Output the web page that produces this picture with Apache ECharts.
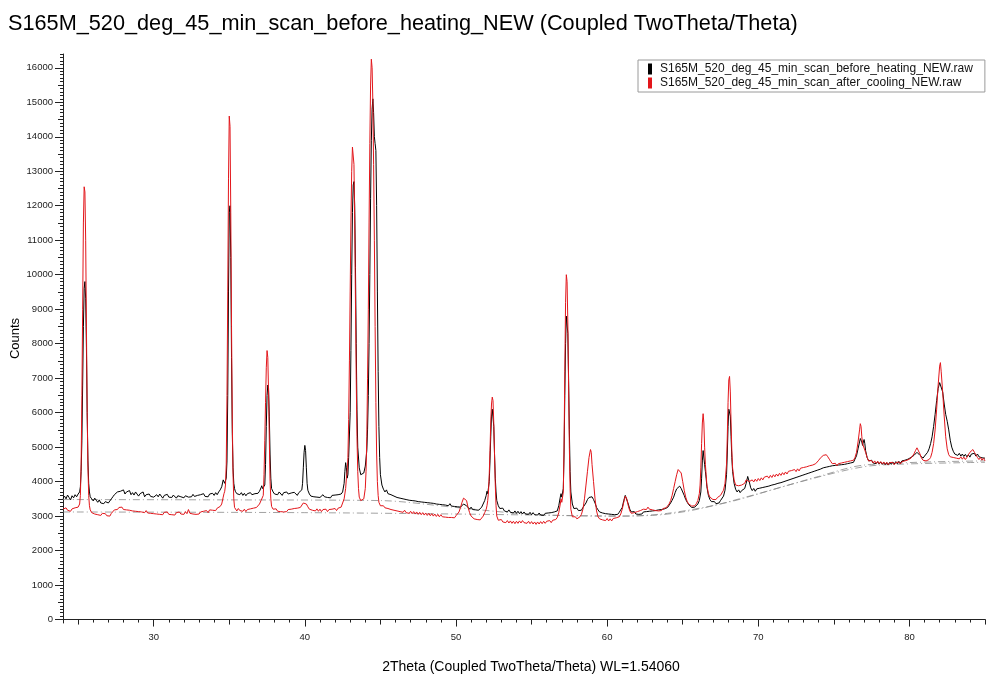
<!DOCTYPE html>
<html>
<head>
<meta charset="utf-8">
<title>XRD scan</title>
<script src="https://cdn.jsdelivr.net/npm/echarts@6/dist/echarts.min.js"></script>
<style>
  html, body { margin: 0; padding: 0; background: #fff; }
  #chart { width: 988px; height: 677px; }
</style>
</head>
<body>
<div id="chart"></div>
<script>
const titleText = 'S165M_520_deg_45_min_scan_before_heating_NEW (Coupled TwoTheta/Theta)';
const seriesNames = ['S165M_520_deg_45_min_scan_before_heating_NEW.raw', 'S165M_520_deg_45_min_scan_after_cooling_NEW.raw'];
const xLabelTicks = [30, 40, 50, 60, 70, 80];
const xMidTicks = [25, 35, 45, 55, 65, 75, 85];
const yLabelTicks = [0, 1000, 2000, 3000, 4000, 5000, 6000, 7000, 8000, 9000, 10000, 11000, 12000, 13000, 14000, 15000, 16000];

// black scan (before heating): [2theta, counts]
const beforeHeating = [
[24.0,3520],[24.1,3580],[24.2,3500],[24.3,3610],[24.4,3540],[24.5,3470],[24.6,3590],[24.7,3530],[24.8,3620],[24.9,3560],
[25.0,3640],[25.1,3700],[25.15,3850],[25.2,4300],[25.25,5200],[25.3,6800],[25.35,8500],[25.4,9600],[25.45,9800],[25.5,9300],
[25.55,7900],[25.6,6000],[25.65,4600],[25.7,3950],[25.75,3700],[25.8,3560],[25.9,3500],[26.0,3440],[26.1,3520],[26.2,3460],
[26.3,3400],[26.4,3470],[26.5,3380],[26.6,3430],[26.7,3360],[26.8,3420],[26.9,3450],[27.0,3380],[27.1,3420],[27.2,3500],
[27.3,3560],[27.4,3620],[27.5,3590],[27.6,3700],[27.7,3650],[27.8,3720],[27.9,3680],[28.0,3760],[28.1,3640],[28.2,3700],
[28.3,3660],[28.4,3740],[28.5,3620],[28.6,3680],[28.7,3610],[28.8,3700],[28.9,3640],[29.0,3580],[29.1,3650],[29.2,3600],
[29.3,3700],[29.4,3560],[29.5,3620],[29.6,3580],[29.7,3640],[29.8,3570],[29.9,3610],[30.0,3550],[30.1,3590],[30.2,3620],
[30.3,3560],[30.4,3640],[30.5,3580],[30.6,3520],[30.7,3600],[30.8,3570],[30.9,3630],[31.0,3550],[31.1,3600],[31.2,3540],
[31.3,3610],[31.4,3570],[31.5,3520],[31.6,3590],[31.7,3640],[31.8,3560],[31.9,3600],[32.0,3530],[32.1,3590],[32.2,3620],
[32.3,3550],[32.4,3600],[32.5,3560],[32.6,3630],[32.7,3570],[32.8,3520],[32.9,3600],[33.0,3560],[33.1,3620],[33.2,3580],
[33.3,3650],[33.4,3570],[33.5,3610],[33.6,3560],[33.7,3640],[33.8,3590],[33.9,3660],[34.0,3600],[34.1,3680],[34.2,3620],
[34.3,3700],[34.4,3760],[34.5,3850],[34.6,4050],[34.65,4100],[34.7,3950],[34.75,3900],[34.8,4100],[34.85,4600],[34.9,6500],
[34.95,9500],[35.0,11800],[35.05,12000],[35.1,10500],[35.15,7600],[35.2,5400],[35.25,4400],[35.3,3950],[35.35,3800],[35.4,3720],
[35.5,3650],[35.6,3700],[35.7,3620],[35.8,3680],[35.9,3600],[36.0,3660],[36.1,3590],[36.2,3650],[36.3,3600],[36.4,3680],
[36.5,3620],[36.6,3580],[36.7,3650],[36.8,3600],[36.9,3660],[37.0,3720],[37.1,3820],[37.15,3880],[37.2,3800],[37.3,3750],
[37.35,3900],[37.4,4500],[37.45,5600],[37.5,6500],[37.55,6800],[37.6,6700],[37.65,5900],[37.7,4800],[37.75,4100],[37.8,3800],
[37.9,3700],[38.0,3640],[38.1,3690],[38.2,3620],[38.3,3700],[38.4,3650],[38.5,3600],[38.6,3680],[38.7,3630],[38.8,3700],
[38.9,3640],[39.0,3600],[39.1,3670],[39.2,3620],[39.3,3690],[39.4,3640],[39.5,3600],[39.6,3680],[39.7,3650],[39.8,3760],
[39.85,3950],[39.9,4400],[39.95,4850],[40.0,5050],[40.05,4900],[40.1,4400],[40.15,3950],[40.2,3750],[40.3,3640],[40.4,3580],
[40.5,3620],[40.6,3560],[40.7,3610],[40.8,3550],[40.9,3600],[41.0,3540],[41.1,3590],[41.2,3620],[41.3,3560],[41.4,3600],
[41.5,3540],[41.6,3590],[41.7,3530],[41.8,3600],[41.9,3550],[42.0,3610],[42.1,3560],[42.2,3620],[42.3,3580],[42.4,3640],
[42.5,3700],[42.6,3950],[42.65,4300],[42.7,4550],[42.75,4400],[42.8,4100],[42.85,4200],[42.9,4700],[43.0,6000],[43.05,7800],
[43.1,10000],[43.15,11800],[43.2,12600],[43.25,12700],[43.3,12000],[43.35,10200],[43.4,8000],[43.45,6100],[43.5,5000],[43.6,4400],
[43.7,4200],[43.8,4150],[43.9,4250],[44.0,4450],[44.1,4900],[44.15,5500],[44.2,6500],[44.25,8000],[44.3,10000],[44.35,12200],
[44.4,13900],[44.45,14800],[44.5,15100],[44.55,14700],[44.6,14000],[44.65,13800],[44.7,13600],[44.75,12000],[44.8,9500],[44.85,7200],
[44.9,5600],[44.95,4700],[45.0,4200],[45.1,3900],[45.2,3780],[45.3,3700],[45.4,3760],[45.5,3650],[45.6,3700],[45.7,3620],
[45.8,3660],[45.9,3580],[46.0,3620],[46.1,3540],[46.2,3590],[46.3,3520],[46.4,3560],[46.5,3500],[46.6,3550],[46.7,3480],
[46.8,3530],[46.9,3460],[47.0,3510],[47.1,3450],[47.2,3500],[47.3,3440],[47.4,3490],[47.5,3420],[47.6,3470],[47.7,3410],
[47.8,3460],[47.9,3400],[48.0,3450],[48.1,3390],[48.2,3440],[48.3,3380],[48.4,3430],[48.5,3370],[48.6,3410],[48.7,3350],
[48.8,3400],[48.9,3340],[49.0,3390],[49.1,3330],[49.2,3380],[49.3,3320],[49.4,3370],[49.5,3300],[49.6,3360],[49.7,3290],
[49.8,3340],[49.9,3280],[50.0,3330],[50.1,3270],[50.2,3320],[50.3,3260],[50.4,3310],[50.5,3350],[50.6,3380],[50.7,3300],
[50.8,3250],[50.9,3200],[51.0,3260],[51.1,3190],[51.2,3240],[51.3,3180],[51.4,3230],[51.5,3170],[51.6,3220],[51.7,3260],
[51.8,3300],[51.9,3450],[52.0,3600],[52.05,3720],[52.1,3650],[52.15,3700],[52.2,4000],[52.25,4600],[52.3,5300],[52.35,5900],
[52.4,6100],[52.45,6050],[52.5,5600],[52.55,4800],[52.6,4100],[52.65,3700],[52.7,3450],[52.8,3300],[52.9,3220],[53.0,3180],
[53.1,3230],[53.2,3150],[53.3,3200],[53.4,3120],[53.5,3180],[53.6,3110],[53.7,3160],[53.8,3090],[53.9,3150],[54.0,3080],
[54.1,3140],[54.2,3070],[54.3,3130],[54.4,3060],[54.5,3120],[54.6,3060],[54.7,3110],[54.8,3050],[54.9,3110],[55.0,3040],
[55.1,3100],[55.2,3040],[55.3,3090],[55.4,3030],[55.5,3090],[55.6,3030],[55.7,3080],[55.8,3020],[55.9,3080],[56.0,3030],
[56.1,3090],[56.2,3040],[56.3,3100],[56.4,3060],[56.5,3120],[56.6,3080],[56.7,3150],[56.8,3300],[56.9,3550],[56.95,3650],
[57.0,3550],[57.05,3500],[57.1,3800],[57.15,4800],[57.2,6500],[57.25,8000],[57.3,8800],[57.35,8850],[57.4,8300],[57.45,7000],
[57.5,5500],[57.55,4300],[57.6,3700],[57.7,3350],[57.8,3220],[57.9,3180],[58.0,3230],[58.1,3160],[58.2,3210],[58.3,3170],
[58.4,3250],[58.5,3300],[58.6,3380],[58.7,3480],[58.8,3540],[58.9,3500],[59.0,3560],[59.1,3480],[59.2,3380],[59.3,3250],
[59.4,3180],[59.5,3120],[59.6,3160],[59.7,3090],[59.8,3140],[59.9,3070],[60.0,3120],[60.1,3060],[60.2,3110],[60.3,3050],
[60.4,3100],[60.5,3040],[60.6,3090],[60.7,3050],[60.8,3110],[60.9,3150],[61.0,3250],[61.1,3450],[61.2,3600],[61.25,3620],
[61.3,3550],[61.4,3350],[61.5,3200],[61.6,3120],[61.7,3080],[61.8,3130],[61.9,3060],[62.0,3110],[62.1,3050],[62.2,3100],
[62.3,3060],[62.4,3120],[62.5,3070],[62.6,3130],[62.7,3080],[62.8,3140],[62.9,3090],[63.0,3150],[63.1,3100],[63.2,3160],
[63.3,3120],[63.4,3180],[63.5,3130],[63.6,3190],[63.7,3150],[63.8,3210],[63.9,3180],[64.0,3250],[64.1,3300],[64.2,3380],
[64.3,3460],[64.4,3550],[64.5,3680],[64.6,3790],[64.7,3840],[64.8,3870],[64.9,3800],[65.0,3700],[65.1,3600],[65.2,3480],
[65.3,3400],[65.4,3330],[65.5,3290],[65.6,3250],[65.7,3300],[65.8,3260],[65.9,3310],[66.0,3350],[66.1,3450],[66.2,3700],
[66.25,4100],[66.3,4600],[66.35,4900],[66.4,4850],[66.45,4500],[66.5,4300],[66.55,4100],[66.6,3850],[66.7,3600],[66.8,3480],
[66.9,3420],[67.0,3380],[67.1,3420],[67.2,3360],[67.3,3410],[67.4,3380],[67.5,3450],[67.6,3500],[67.7,3580],[67.8,3750],
[67.9,4200],[67.95,4800],[68.0,5600],[68.05,6100],[68.1,6150],[68.15,5900],[68.2,5300],[68.25,4700],[68.3,4300],[68.4,3950],
[68.5,3780],[68.6,3700],[68.7,3760],[68.8,3680],[68.9,3740],[69.0,3700],[69.1,3800],[69.2,3950],[69.3,4150],[69.35,4200],
[69.4,4000],[69.5,3820],[69.6,3740],[69.7,3800],[69.8,3720],[69.9,3790],[70.0,3740],[70.1,3810],[70.2,3760],[70.3,3830],
[70.4,3780],[70.5,3850],[70.6,3800],[70.7,3870],[70.8,3820],[70.9,3900],[71.0,3850],[71.1,3920],[71.2,3870],[71.3,3950],
[71.4,3900],[71.5,3970],[71.6,3920],[71.7,4000],[71.8,3950],[71.9,4030],[72.0,3980],[72.1,4060],[72.2,4010],[72.3,4090],
[72.4,4040],[72.5,4120],[72.6,4070],[72.7,4150],[72.8,4100],[72.9,4180],[73.0,4130],[73.1,4210],[73.2,4160],[73.3,4240],
[73.4,4190],[73.5,4270],[73.6,4220],[73.7,4300],[73.8,4250],[73.9,4330],[74.0,4290],[74.1,4360],[74.2,4320],[74.3,4400],
[74.4,4350],[74.5,4420],[74.6,4380],[74.7,4440],[74.8,4400],[74.9,4460],[75.0,4410],[75.1,4470],[75.2,4420],[75.3,4480],
[75.4,4430],[75.5,4490],[75.6,4440],[75.7,4500],[75.8,4460],[75.9,4520],[76.0,4480],[76.1,4540],[76.2,4500],[76.3,4560],
[76.4,4600],[76.5,4750],[76.6,4950],[76.7,5150],[76.75,5250],[76.8,5280],[76.85,5150],[76.9,5050],[76.95,5150],[77.0,5220],
[77.05,5100],[77.1,4900],[77.2,4700],[77.3,4600],[77.4,4560],[77.5,4620],[77.6,4540],[77.7,4590],[77.8,4520],[77.9,4580],
[78.0,4510],[78.1,4570],[78.2,4500],[78.3,4560],[78.4,4490],[78.5,4550],[78.6,4480],[78.7,4560],[78.8,4500],[78.9,4570],
[79.0,4510],[79.1,4580],[79.2,4520],[79.3,4590],[79.4,4530],[79.5,4600],[79.6,4550],[79.7,4620],[79.8,4580],[79.9,4650],
[80.0,4620],[80.1,4700],[80.2,4680],[80.3,4760],[80.4,4800],[80.5,4850],[80.6,4820],[80.7,4760],[80.8,4720],[80.9,4680],
[81.0,4740],[81.1,4780],[81.2,4850],[81.3,4950],[81.4,5100],[81.5,5300],[81.6,5600],[81.7,5950],[81.8,6350],[81.9,6700],
[82.0,6870],[82.1,6820],[82.2,6600],[82.3,6250],[82.4,5950],[82.5,5750],[82.6,5500],[82.7,5200],[82.8,5000],[82.9,4880],
[83.0,4800],[83.1,4850],[83.2,4760],[83.3,4820],[83.4,4740],[83.5,4800],[83.6,4730],[83.7,4790],[83.8,4720],[83.9,4780],
[84.0,4710],[84.1,4800],[84.2,4760],[84.3,4820],[84.4,4740],[84.5,4800],[84.6,4720],[84.7,4770],[84.8,4690],[84.9,4740],
[85.0,4680]
];

// red scan (after cooling): [2theta, counts]
const afterCooling = [
[24.0,3200],[24.1,3150],[24.2,3240],[24.3,3170],[24.4,3220],[24.5,3140],[24.6,3210],[24.7,3160],[24.8,3240],[24.9,3190],
[25.0,3260],[25.1,3350],[25.15,3600],[25.2,4500],[25.25,6500],[25.3,9000],[25.35,11500],[25.4,12550],[25.45,12400],[25.5,11000],
[25.55,8500],[25.6,6000],[25.65,4400],[25.7,3600],[25.75,3300],[25.8,3180],[25.9,3100],[26.0,3140],[26.1,3060],[26.2,3110],
[26.3,3040],[26.4,3090],[26.5,3020],[26.6,3080],[26.7,3030],[26.8,3070],[26.9,3010],[27.0,3060],[27.1,3000],[27.2,3080],
[27.3,3120],[27.4,3180],[27.5,3220],[27.6,3190],[27.7,3250],[27.8,3200],[27.9,3260],[28.0,3190],[28.1,3240],[28.2,3180],
[28.3,3230],[28.4,3170],[28.5,3210],[28.6,3150],[28.7,3200],[28.8,3140],[28.9,3190],[29.0,3130],[29.1,3180],[29.2,3120],
[29.3,3170],[29.4,3100],[29.5,3160],[29.6,3090],[29.7,3140],[29.8,3080],[29.9,3130],[30.0,3070],[30.1,3120],[30.2,3060],
[30.3,3110],[30.4,3050],[30.5,3100],[30.6,3040],[30.7,3110],[30.8,3060],[30.9,3120],[31.0,3050],[31.1,3100],[31.2,3040],
[31.3,3090],[31.4,3030],[31.5,3100],[31.6,3050],[31.7,3120],[31.8,3060],[31.9,3110],[32.0,3050],[32.1,3130],[32.2,3070],
[32.3,3190],[32.4,3080],[32.5,3120],[32.6,3060],[32.7,3110],[32.8,3050],[32.9,3100],[33.0,3060],[33.1,3120],[33.2,3070],
[33.3,3140],[33.4,3090],[33.5,3160],[33.6,3100],[33.7,3180],[33.8,3230],[33.9,3170],[34.0,3220],[34.1,3160],[34.2,3230],
[34.3,3200],[34.4,3280],[34.5,3350],[34.6,3550],[34.65,3650],[34.7,3720],[34.75,3900],[34.8,4500],[34.85,6500],[34.9,9500],
[34.95,12800],[35.0,14600],[35.05,14300],[35.1,11800],[35.15,8500],[35.2,5800],[35.25,4200],[35.3,3500],[35.35,3250],[35.4,3200],
[35.5,3150],[35.6,3220],[35.7,3160],[35.8,3210],[35.9,3140],[36.0,3200],[36.1,3130],[36.2,3190],[36.3,3150],[36.4,3210],
[36.5,3160],[36.6,3230],[36.7,3180],[36.8,3250],[36.9,3300],[37.0,3350],[37.1,3450],[37.15,3480],[37.2,3400],[37.25,3600],
[37.3,4200],[37.35,5200],[37.4,6300],[37.45,7300],[37.5,7800],[37.55,7600],[37.6,6600],[37.65,5200],[37.7,4000],[37.75,3500],
[37.8,3280],[37.9,3200],[38.0,3150],[38.1,3210],[38.2,3140],[38.3,3190],[38.4,3130],[38.5,3180],[38.6,3120],[38.7,3170],
[38.8,3130],[38.9,3190],[39.0,3140],[39.1,3200],[39.2,3150],[39.3,3220],[39.4,3170],[39.5,3230],[39.6,3180],[39.7,3250],
[39.8,3300],[39.9,3380],[40.0,3430],[40.1,3350],[40.2,3270],[40.3,3200],[40.4,3240],[40.5,3170],[40.6,3220],[40.7,3150],
[40.8,3210],[40.9,3140],[41.0,3200],[41.1,3130],[41.2,3190],[41.3,3140],[41.4,3200],[41.5,3130],[41.6,3190],[41.7,3140],
[41.8,3200],[41.9,3150],[42.0,3220],[42.1,3160],[42.2,3230],[42.3,3200],[42.4,3260],[42.5,3300],[42.6,3500],[42.7,3800],
[42.75,4100],[42.8,4300],[42.85,4700],[42.9,5800],[42.95,7500],[43.0,9500],[43.05,11500],[43.1,13000],[43.15,13700],[43.2,13750],
[43.25,13200],[43.3,11500],[43.35,9200],[43.4,7000],[43.45,5300],[43.5,4300],[43.55,3800],[43.6,3550],[43.7,3450],[43.8,3420],
[43.9,3500],[44.0,3800],[44.05,4300],[44.1,5300],[44.15,7000],[44.2,9000],[44.25,11500],[44.3,13800],[44.35,15500],[44.4,16250],
[44.45,16000],[44.5,15000],[44.55,13200],[44.6,11000],[44.65,8500],[44.7,6300],[44.75,4800],[44.8,4000],[44.85,3600],[44.9,3400],
[45.0,3300],[45.1,3260],[45.2,3300],[45.3,3240],[45.4,3280],[45.5,3220],[45.6,3260],[45.7,3190],[45.8,3240],[45.9,3170],
[46.0,3220],[46.1,3150],[46.2,3200],[46.3,3130],[46.4,3180],[46.5,3110],[46.6,3170],[46.7,3100],[46.8,3150],[46.9,3080],
[47.0,3140],[47.1,3070],[47.2,3130],[47.3,3060],[47.4,3120],[47.5,3050],[47.6,3110],[47.7,3040],[47.8,3100],[47.9,3030],
[48.0,3090],[48.1,3020],[48.2,3080],[48.3,3010],[48.4,3070],[48.5,3000],[48.6,3060],[48.7,2990],[48.8,3050],[48.9,2980],
[49.0,3040],[49.1,2980],[49.2,3030],[49.3,2970],[49.4,3020],[49.5,2960],[49.6,3010],[49.7,2960],[49.8,3000],[49.9,2950],
[50.0,3010],[50.1,3050],[50.2,3120],[50.3,3250],[50.4,3400],[50.5,3520],[50.6,3560],[50.7,3450],[50.8,3250],[50.9,3100],
[51.0,3000],[51.1,2960],[51.2,2920],[51.3,2960],[51.4,2900],[51.5,2940],[51.6,2890],[51.7,2940],[51.8,3000],[51.9,3100],
[52.0,3200],[52.05,3300],[52.1,3450],[52.15,3700],[52.2,4200],[52.25,4900],[52.3,5700],[52.35,6250],[52.4,6450],[52.45,6350],
[52.5,5700],[52.55,4800],[52.6,3900],[52.65,3300],[52.7,3000],[52.8,2880],[52.9,2840],[53.0,2900],[53.1,2830],[53.2,2880],
[53.3,2810],[53.4,2870],[53.5,2800],[53.6,2860],[53.7,2790],[53.8,2850],[53.9,2780],[54.0,2850],[54.1,2790],[54.2,2860],
[54.3,2800],[54.4,2870],[54.5,2810],[54.6,2860],[54.7,2790],[54.8,2850],[54.9,2780],[55.0,2840],[55.1,2770],[55.2,2830],
[55.3,2760],[55.4,2830],[55.5,2770],[55.6,2840],[55.7,2780],[55.8,2850],[55.9,2790],[56.0,2850],[56.1,2800],[56.2,2870],
[56.3,2810],[56.4,2880],[56.5,2830],[56.6,2900],[56.7,2960],[56.8,3100],[56.9,3350],[56.95,3500],[57.0,3400],[57.05,3350],
[57.1,3700],[57.15,5000],[57.2,7200],[57.25,9200],[57.3,10000],[57.35,9800],[57.4,8600],[57.45,6800],[57.5,5000],[57.55,3800],
[57.6,3200],[57.7,2980],[57.8,2940],[57.9,2980],[58.0,2920],[58.1,2960],[58.2,2980],[58.3,3050],[58.4,3200],[58.5,3500],
[58.6,3900],[58.7,4300],[58.8,4700],[58.9,4930],[58.95,4850],[59.0,4500],[59.1,4000],[59.2,3500],[59.3,3150],[59.4,2980],
[59.5,2920],[59.6,2960],[59.7,2890],[59.8,2940],[59.9,2870],[60.0,2930],[60.1,2860],[60.2,2920],[60.3,2860],[60.4,2930],
[60.5,2880],[60.6,2950],[60.7,2900],[60.8,2980],[60.9,3060],[61.0,3200],[61.1,3400],[61.2,3580],[61.25,3600],[61.3,3500],
[61.4,3300],[61.5,3150],[61.6,3080],[61.7,3040],[61.8,3100],[61.9,3060],[62.0,3130],[62.1,3090],[62.2,3160],[62.3,3110],
[62.4,3200],[62.5,3250],[62.6,3190],[62.7,3260],[62.8,3200],[62.9,3250],[63.0,3180],[63.1,3230],[63.2,3160],[63.3,3210],
[63.4,3150],[63.5,3200],[63.6,3160],[63.7,3220],[63.8,3180],[63.9,3240],[64.0,3290],[64.1,3350],[64.2,3450],[64.3,3600],
[64.4,3800],[64.5,4000],[64.6,4200],[64.7,4350],[64.8,4400],[64.9,4250],[65.0,4000],[65.1,3750],[65.2,3550],[65.3,3420],
[65.4,3350],[65.5,3320],[65.6,3290],[65.7,3330],[65.8,3300],[65.9,3360],[66.0,3450],[66.1,3650],[66.15,3900],[66.2,4400],
[66.25,5100],[66.3,5700],[66.35,5970],[66.4,5700],[66.45,5000],[66.5,4500],[66.55,4200],[66.6,3900],[66.7,3650],[66.8,3550],
[66.9,3500],[67.0,3480],[67.1,3520],[67.2,3480],[67.3,3540],[67.4,3520],[67.5,3600],[67.6,3650],[67.7,3750],[67.8,3950],
[67.9,4500],[67.95,5300],[68.0,6300],[68.05,6950],[68.1,7050],[68.15,6600],[68.2,5700],[68.25,4900],[68.3,4400],[68.4,4050],
[68.5,3900],[68.6,3850],[68.7,3880],[68.8,3830],[68.9,3900],[69.0,3870],[69.1,3950],[69.2,4050],[69.3,4080],[69.4,4000],
[69.5,3980],[69.6,4050],[69.7,3990],[69.8,4070],[69.9,4010],[70.0,4090],[70.1,4030],[70.2,4110],[70.3,4050],[70.4,4130],
[70.5,4080],[70.6,4160],[70.7,4100],[70.8,4180],[70.9,4120],[71.0,4200],[71.1,4140],[71.2,4220],[71.3,4160],[71.4,4240],
[71.5,4180],[71.6,4260],[71.7,4200],[71.8,4280],[71.9,4220],[72.0,4300],[72.1,4250],[72.2,4320],[72.3,4270],[72.4,4350],
[72.5,4290],[72.6,4370],[72.7,4310],[72.8,4390],[72.9,4340],[73.0,4410],[73.1,4360],[73.2,4430],[73.3,4380],[73.4,4460],
[73.5,4410],[73.6,4480],[73.7,4440],[73.8,4520],[73.9,4560],[74.0,4620],[74.1,4680],[74.2,4720],[74.3,4760],[74.4,4800],
[74.5,4780],[74.6,4720],[74.7,4650],[74.8,4580],[74.9,4520],[75.0,4480],[75.1,4530],[75.2,4460],[75.3,4520],[75.4,4470],
[75.5,4540],[75.6,4490],[75.7,4560],[75.8,4510],[75.9,4580],[76.0,4530],[76.1,4600],[76.2,4560],[76.3,4620],[76.4,4700],
[76.5,4850],[76.6,5150],[76.7,5500],[76.75,5680],[76.8,5600],[76.85,5300],[76.9,5100],[76.95,5150],[77.0,5050],[77.1,4850],
[77.2,4700],[77.3,4600],[77.4,4560],[77.5,4610],[77.6,4540],[77.7,4600],[77.8,4530],[77.9,4590],[78.0,4520],[78.1,4580],
[78.2,4510],[78.3,4570],[78.4,4500],[78.5,4560],[78.6,4490],[78.7,4550],[78.8,4500],[78.9,4560],[79.0,4490],[79.1,4550],
[79.2,4500],[79.3,4570],[79.4,4510],[79.5,4580],[79.6,4530],[79.7,4600],[79.8,4560],[79.9,4630],[80.0,4600],[80.1,4680],
[80.2,4700],[80.3,4800],[80.4,4900],[80.5,4980],[80.6,4950],[80.7,4800],[80.8,4680],[80.9,4620],[81.0,4650],[81.1,4600],
[81.2,4580],[81.3,4640],[81.4,4700],[81.5,4850],[81.6,5100],[81.7,5500],[81.8,6100],[81.9,6800],[82.0,7350],[82.05,7450],
[82.1,7200],[82.2,6600],[82.3,5900],[82.4,5300],[82.5,4950],[82.6,4780],[82.7,4720],[82.8,4760],[82.9,4700],[83.0,4750],
[83.1,4680],[83.2,4730],[83.3,4660],[83.4,4720],[83.5,4650],[83.6,4710],[83.7,4640],[83.8,4700],[83.9,4780],[84.0,4850],
[84.1,4900],[84.2,4930],[84.3,4850],[84.4,4780],[84.5,4700],[84.6,4640],[84.7,4700],[84.8,4620],[84.9,4680],[85.0,4600]
];

// fitted backgrounds (dash-dot)
const bgBefore = [[24,3480],[35,3470],[45,3450],[50,3250],[55,3050],[60,3000],[63,3020],[66,3200],[70,3650],[74,4150],[77,4480],[85,4600]];
const bgAfter = [[24,3120],[40,3100],[50,3060],[57,3020],[61,3000],[64,3080],[68,3400],[72,3900],[76,4350],[78,4480],[85,4560]];

// minor tick positions along the axes
const xMinorTicks = [];
for (let v = 24; v <= 85; v++) xMinorTicks.push(v);
const yMinorTicks = [];
for (let v = 0; v <= 16400; v += 100) yMinorTicks.push(v);
const yMidTicks = [];
for (let v = 500; v <= 16000; v += 1000) yMidTicks.push(v);

const chart = echarts.init(document.getElementById('chart'));
const font = 'Liberation Sans, Arial, sans-serif';

const plainX = (ticks, len) => ({
  type: 'value', min: 24, max: 85, gridIndex: 0, position: 'bottom', offset: 0,
  axisLine: { show: false },
  axisTick: { show: true, length: len, customValues: ticks, lineStyle: { color: '#222' } },
  axisLabel: { show: false },
  splitLine: { show: false }
});
const plainY = (ticks, len) => ({
  type: 'value', min: -100, max: 16400, gridIndex: 0, position: 'left', offset: 0,
  axisLine: { show: false },
  axisTick: { show: true, length: len, customValues: ticks, lineStyle: { color: '#222' } },
  axisLabel: { show: false },
  splitLine: { show: false }
});

chart.setOption({
  animation: false,
  backgroundColor: '#fff',
  title: {
    text: titleText, left: 3, top: 8,
    textStyle: { fontFamily: font, fontSize: 21.7, fontWeight: 'normal', color: '#000' }
  },
  legend: {
    orient: 'vertical', left: 638, top: 60,
    padding: [3, 12, 3, 10],
    itemGap: 2,
    itemWidth: 4, itemHeight: 11,
    borderColor: '#9a9a9a', borderWidth: 1, backgroundColor: '#fff',
    icon: 'rect',
    textStyle: { fontFamily: font, fontSize: 12, color: '#111', padding: [0, 0, 0, 3] },
    data: seriesNames
  },
  grid: { left: 63, right: 3, top: 54, bottom: 54, outerBoundsMode: 'none', containLabel: false },
  xAxis: [
    {
      type: 'value', min: 24, max: 85, position: 'bottom',
      name: '2Theta (Coupled TwoTheta/Theta) WL=1.54060',
      nameLocation: 'middle', nameGap: 37, nameMoveOverlap: false,
      nameTextStyle: { fontFamily: font, fontSize: 14, color: '#000', padding: [0, 0, 0, 14] },
      axisLine: { lineStyle: { color: '#222', width: 1 } },
      axisTick: { length: 7, customValues: xLabelTicks, lineStyle: { color: '#222' } },
      axisLabel: { customValues: xLabelTicks, fontFamily: font, fontSize: 9.5, color: '#222', margin: 9 },
      splitLine: { show: false }
    },
    plainX(xMidTicks, 5),
    plainX(xMinorTicks, 3)
  ],
  yAxis: [
    {
      type: 'value', min: -100, max: 16400, position: 'left',
      name: 'Counts',
      nameLocation: 'middle', nameGap: 41, nameMoveOverlap: false,
      nameTextStyle: { fontFamily: font, fontSize: 13, color: '#000' },
      axisLine: { show: true, lineStyle: { color: '#222', width: 1 } },
      axisTick: { show: true, length: 8, customValues: yLabelTicks, lineStyle: { color: '#222' } },
      axisLabel: { customValues: yLabelTicks, formatter: v => String(v), fontFamily: font, fontSize: 9.5, color: '#222', margin: 10 },
      splitLine: { show: false }
    },
    plainY(yMidTicks, 5),
    plainY(yMinorTicks, 3)
  ],
  series: [
    {
      name: 'bgBefore', type: 'line', data: bgBefore, showSymbol: false, silent: true, smooth: 0.3,
      lineStyle: { color: '#8a8a8a', width: 0.8, type: [7, 3, 1, 3] }, z: 1
    },
    {
      name: 'bgAfter', type: 'line', data: bgAfter, showSymbol: false, silent: true, smooth: 0.3,
      lineStyle: { color: '#8a8a8a', width: 0.8, type: [7, 3, 1, 3] }, z: 1
    },
    {
      name: seriesNames[0], type: 'line', data: beforeHeating, showSymbol: false, silent: true,
      itemStyle: { color: '#000' }, lineStyle: { color: '#000', width: 1 }, z: 2
    },
    {
      name: seriesNames[1], type: 'line', data: afterCooling, showSymbol: false, silent: true,
      itemStyle: { color: '#e3161b' }, lineStyle: { color: '#e3161b', width: 1 }, z: 3
    }
  ]
});
</script>
</body>
</html>
